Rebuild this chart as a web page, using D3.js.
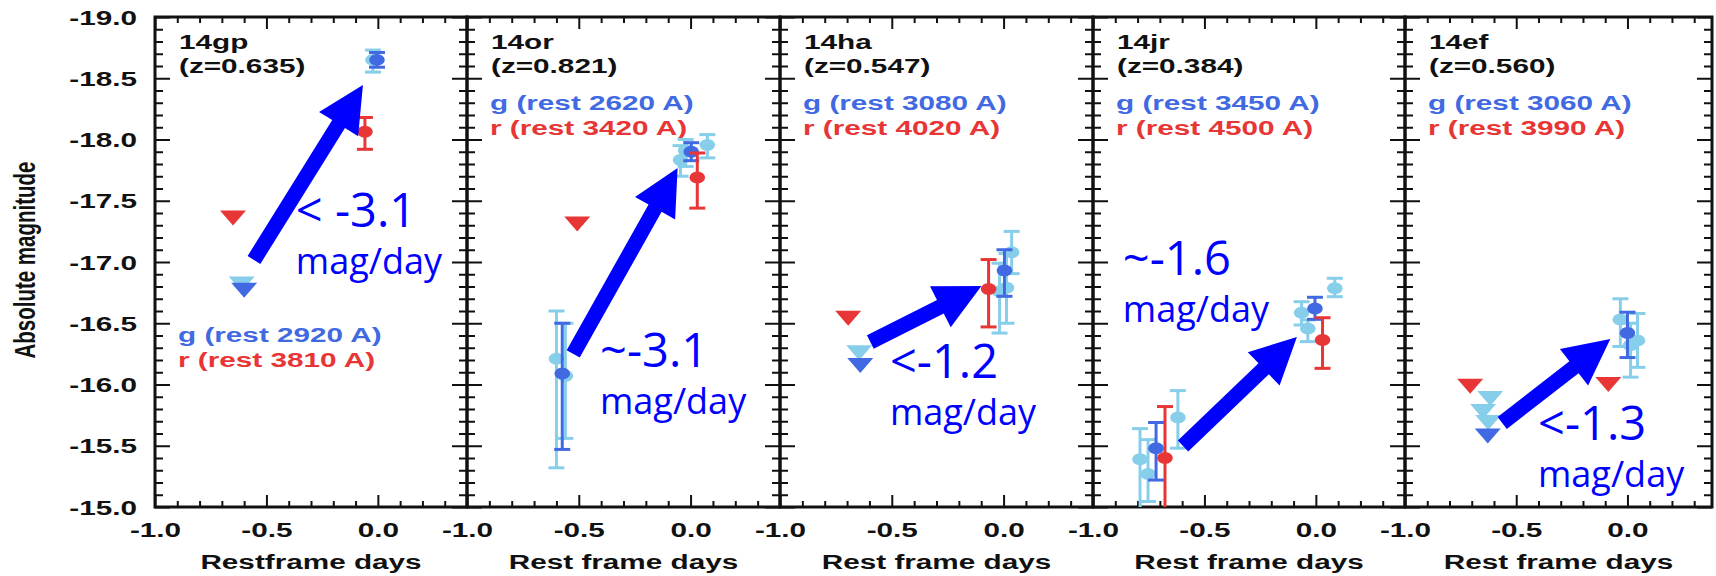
<!DOCTYPE html>
<html>
<head>
<meta charset="utf-8">
<script src="https://cdn.jsdelivr.net/npm/d3@7"></script>
<style>
  html, body { margin: 0; padding: 0; background: #ffffff; }
  svg { display: block; }
</style>
</head>
<body>
<svg id="chart" width="1716" height="576"></svg>
<script>
// ---- Objects shown in the five panels ----
const supernovae = ["14gp", "14or", "14ha", "14jr", "14ef"];
const redshifts  = ["0.635", "0.821", "0.547", "0.384", "0.560"];
const gRestWave  = [2920, 2620, 3080, 3450, 3060];
const rRestWave  = [3810, 3420, 4020, 4500, 3990];
const xTitles    = ["Restframe days", "Rest frame days", "Rest frame days", "Rest frame days", "Rest frame days"];
const yTitle     = "Absolute magnitude";

// ---- Tick labels ----
const xTickLabels = ["-1.0", "-0.5", "0.0"];
const yTickLabels = ["-19.0", "-18.5", "-18.0", "-17.5", "-17.0", "-16.5", "-16.0", "-15.5", "-15.0"];

// ---- Detections: [panel, rest-frame day, abs. mag, bright-side mag, faint-side mag] ----
// g band, nightly combined points
const gBinned = [
  [0, -0.004, -18.65, -18.71, -18.59],
  [1, -0.574, -16.09, -16.50, -15.47],
  [1,  0.003, -17.90, -17.974, -17.827],
  [2,  0.004, -16.93, -17.10, -16.72],
  [3, -0.717, -15.48, -15.69, -15.22],
  [3, -0.004, -16.62, -16.712, -16.532],
  [4,  0.000, -16.42, -16.59, -16.22]
];
// g band, individual exposures
const gSingle = [
  [0, -0.022, -18.65, -18.73, -18.55],
  [1, -0.600, -16.21, -16.60, -15.32],
  [1, -0.560, -16.07, -16.50, -15.56],
  [1, -0.045, -17.833, -17.95, -17.70],
  [1, -0.022, -17.91, -18.00, -17.78],
  [1,  0.075, -17.955, -18.04, -17.85],
  [2,  0.036, -17.08, -17.25, -16.905],
  [2,  0.013, -16.79, -17.07, -16.50],
  [2, -0.018, -16.76, -16.99, -16.42],
  [3, -0.789, -15.39, -15.64, -14.90],
  [3, -0.753, -15.27, -15.55, -15.045],
  [3, -0.619, -15.73, -15.95, -15.48],
  [3, -0.064, -16.585, -16.676, -16.486],
  [3, -0.036, -16.458, -16.527, -16.35],
  [3,  0.085, -16.785, -16.867, -16.717],
  [4, -0.032, -16.53, -16.70, -16.31],
  [4,  0.045, -16.36, -16.58, -16.14],
  [4,  0.014, -16.32, -16.50, -16.06]
];
// r band
const rDetections = [
  [0, -0.058, -18.064, -18.18, -17.92],
  [1,  0.030, -17.69, -17.89, -17.44],
  [2, -0.067, -16.78, -17.02, -16.47],
  [3, -0.677, -15.40, -15.82, -14.90],
  [3,  0.030, -16.363, -16.545, -16.132]
];

// ---- Upper limits: [panel, rest-frame day, abs. mag] ----
const gBinnedLimits = [
  [0, -0.600, -16.77],
  [2, -0.641, -16.155],
  [4, -0.628, -15.58]
];
const gSingleLimits = [
  [0, -0.611, -16.82],
  [2, -0.646, -16.26],
  [4, -0.617, -15.885],
  [4, -0.649, -15.78],
  [4, -0.626, -15.69]
];
const rLimits = [
  [0, -0.650, -17.36],
  [1, -0.507, -17.31],
  [2, -0.695, -16.54],
  [4, -0.707, -15.985],
  [4, -0.086, -16.00]
];

// ---- Rise-rate arrows: [panel, tail day, tail mag, head day, head mag] ----
const riseArrows = [
  [0, -0.556, -17.016, -0.067, -18.445],
  [1, -0.525, -16.25,  -0.058, -17.767],
  [2, -0.596, -16.347, -0.099, -16.804],
  [3, -0.596, -15.498, -0.085, -16.388],
  [4, -0.563, -15.686, -0.077, -16.371]
];
const riseRates = ["< -3.1", "~-3.1", "<-1.2", "~-1.6", "<-1.3"];
const rateUnit  = "mag/day";
// where each rate label sits: [panel, day, mag] of its first baseline
const rateLabelAt = [
  [0, -0.368, -17.286],
  [1, -0.405, -16.143],
  [2, -0.508, -16.053],
  [3, -0.866, -16.894],
  [4, -0.402, -15.547]
];

// ---- Layout ----
const panelLeft  = [155, 467, 780, 1093, 1405];
const panelRight = [467, 780, 1093, 1405, 1712];
const dayMax     = [0.4, 0.4, 0.4, 0.4, 0.38];
const plotTop = 17, plotBottom = 507;
const legendBaseline = [342, 110, 110, 110, 110];

const SX = 1.45;                       // lettering of the plot is wide
const FONT = "'Liberation Sans', Arial, Helvetica, sans-serif";
const FS = 20.5;
const INK = "#111111";
const C_GDARK = "#4169e1", C_GLIGHT = "#87ceeb", C_RED = "#e83535", C_RATE = "#0000ff";
const RATE_FONT = "'Open Sans', 'Noto Sans', sans-serif";

const svg = d3.select("#chart");
const defs = svg.append("defs");

const y = d3.scaleLinear().domain([-19, -15]).range([plotTop, plotBottom]);

const yMajor = yTickLabels.map(Number);
const yMinor = d3.range(-190, -149).map(v => v / 10).filter(v => !yMajor.includes(v));
const xMajor = xTickLabels.map(Number);

function stretched(sel, x, yy, str) {
  return sel.append("text")
    .attr("transform", `translate(${x},${yy}) scale(${SX},1)`)
    .attr("font-family", FONT)
    .attr("font-size", FS)
    .attr("font-weight", "bold")
    .text(str);
}

function tidyAxis(sel, keepText) {
  sel.select(".domain").remove();
  sel.selectAll(".tick line").attr("stroke", INK).attr("stroke-width", 2);
  if (!keepText) sel.selectAll(".tick text").remove();
  sel.attr("font-family", FONT).attr("font-size", FS).attr("font-weight", "bold");
}

supernovae.forEach((name, i) => {
  const L = panelLeft[i], R = panelRight[i];
  const x = d3.scaleLinear().domain([-1, dayMax[i]]).range([L, R]);
  const xMinor = d3.range(-10, 5).map(v => v / 10)
    .filter(v => !xMajor.includes(v) && v > -1 && v < dayMax[i]);

  const panel = svg.append("g").attr("class", "panel");

  // ticks on all four sides, pointing inwards
  const axB = panel.append("g").attr("transform", `translate(0,${plotBottom})`)
    .call(d3.axisBottom(x).tickValues(xMajor).tickSizeInner(-12).tickSizeOuter(0)
      .tickFormat((d, k) => xTickLabels[k]));
  tidyAxis(axB, true);
  axB.selectAll(".tick text")
    .attr("y", null).attr("dy", null)
    .attr("transform", `translate(0,30) scale(${SX},1)`)
    .attr("fill", INK);
  tidyAxis(panel.append("g").attr("transform", `translate(0,${plotBottom})`)
    .call(d3.axisBottom(x).tickValues(xMinor).tickSizeInner(-6).tickSizeOuter(0)), false);
  tidyAxis(panel.append("g").attr("transform", `translate(0,${plotTop})`)
    .call(d3.axisTop(x).tickValues(xMajor).tickSizeInner(-12).tickSizeOuter(0)), false);
  tidyAxis(panel.append("g").attr("transform", `translate(0,${plotTop})`)
    .call(d3.axisTop(x).tickValues(xMinor).tickSizeInner(-6).tickSizeOuter(0)), false);

  const axL = panel.append("g").attr("transform", `translate(${L},0)`)
    .call(d3.axisLeft(y).tickValues(yMajor).tickSizeInner(-15).tickSizeOuter(0)
      .tickFormat((d, k) => yTickLabels[k]));
  tidyAxis(axL, i === 0);
  axL.selectAll(".tick text")
    .attr("x", null).attr("dy", "0.35em")
    .attr("transform", `translate(-18,0) scale(${SX},1)`)
    .attr("fill", INK);
  tidyAxis(panel.append("g").attr("transform", `translate(${L},0)`)
    .call(d3.axisLeft(y).tickValues(yMinor).tickSizeInner(-8).tickSizeOuter(0)), false);
  tidyAxis(panel.append("g").attr("transform", `translate(${R},0)`)
    .call(d3.axisRight(y).tickValues(yMajor).tickSizeInner(-15).tickSizeOuter(0)), false);
  tidyAxis(panel.append("g").attr("transform", `translate(${R},0)`)
    .call(d3.axisRight(y).tickValues(yMinor).tickSizeInner(-8).tickSizeOuter(0)), false);

  // frame
  panel.append("rect")
    .attr("x", L).attr("y", plotTop)
    .attr("width", R - L).attr("height", plotBottom - plotTop)
    .attr("fill", "none").attr("stroke", INK).attr("stroke-width", 3);

  // object name, redshift, band legend
  stretched(panel, L + 24, 49, name).attr("fill", INK);
  stretched(panel, L + 24, 73, `(z=${redshifts[i]})`).attr("fill", INK);
  stretched(panel, L + 23, legendBaseline[i], `g (rest ${gRestWave[i]} A)`).attr("fill", C_GDARK);
  stretched(panel, L + 23, legendBaseline[i] + 25, `r (rest ${rRestWave[i]} A)`).attr("fill", C_RED);

  // x title
  stretched(panel, (L + R) / 2, 569, xTitles[i]).attr("fill", INK).attr("text-anchor", "middle");

  // data area, clipped to the frame
  const clipId = `clip-${i}`;
  defs.append("clipPath").attr("id", clipId).append("rect")
    .attr("x", L).attr("y", plotTop).attr("width", R - L).attr("height", plotBottom - plotTop);
  const marks = panel.append("g").attr("clip-path", `url(#${clipId})`);

  const tri = "M-13,-7.5L13,-7.5L0,7.5Z";
  function drawLimits(rows, color) {
    marks.selectAll(null).data(rows.filter(r => r[0] === i)).join("path")
      .attr("d", tri)
      .attr("transform", d => `translate(${x(d[1])},${y(d[2])})`)
      .attr("fill", color);
  }
  function drawDetections(rows, color) {
    const pts = marks.selectAll(null).data(rows.filter(r => r[0] === i)).join("g")
      .attr("stroke", color).attr("fill", color);
    pts.append("line")
      .attr("x1", d => x(d[1])).attr("x2", d => x(d[1]))
      .attr("y1", d => y(d[3])).attr("y2", d => y(d[4]))
      .attr("stroke-width", 3);
    [3, 4].forEach(k => pts.append("line")
      .attr("x1", d => x(d[1]) - 8).attr("x2", d => x(d[1]) + 8)
      .attr("y1", d => y(d[k])).attr("y2", d => y(d[k]))
      .attr("stroke-width", 3));
    pts.append("ellipse")
      .attr("cx", d => x(d[1])).attr("cy", d => y(d[2]))
      .attr("rx", 7.8).attr("ry", 6)
      .attr("stroke", "none");
  }
  drawLimits(gSingleLimits, C_GLIGHT);
  drawLimits(gBinnedLimits, C_GDARK);
  drawLimits(rLimits, C_RED);
  drawDetections(gSingle, C_GLIGHT);
  drawDetections(gBinned, C_GDARK);
  drawDetections(rDetections, C_RED);

  // rise arrow
  riseArrows.filter(a => a[0] === i).forEach(a => {
    const x0 = x(a[1]), y0 = y(a[2]), x1 = x(a[3]), y1 = y(a[4]);
    const len = Math.hypot(x1 - x0, y1 - y0);
    const ux = (x1 - x0) / len, uy = (y1 - y0) / len;
    const px = -uy, py = ux;
    const sw = 7.5, hl = 46, hw = 23;
    const bx = x1 - ux * hl, by = y1 - uy * hl;
    const pts = [
      [x0 + px * sw, y0 + py * sw],
      [bx + px * sw, by + py * sw],
      [bx + px * hw, by + py * hw],
      [x1, y1],
      [bx - px * hw, by - py * hw],
      [bx - px * sw, by - py * sw],
      [x0 - px * sw, y0 - py * sw]
    ];
    panel.append("path")
      .attr("d", d3.line()(pts) + "Z")
      .attr("fill", C_RATE);
  });

  // rise-rate label
  rateLabelAt.filter(r => r[0] === i).forEach(r => {
    const tx = x(r[1]), ty = y(r[2]);
    panel.append("text")
      .attr("x", tx).attr("y", ty)
      .attr("font-family", RATE_FONT)
      .attr("font-weight", 500)
      .attr("font-size", 47)
      .attr("fill", C_RATE)
      .text(riseRates[i]);
    panel.append("text")
      .attr("x", tx).attr("y", ty + 47)
      .attr("font-family", RATE_FONT)
      .attr("font-weight", 500)
      .attr("font-size", 36)
      .attr("fill", C_RATE)
      .text(rateUnit);
  });
});

// y title
svg.append("text")
  .attr("transform", `translate(35,260) rotate(-90) scale(1,${SX})`)
  .attr("text-anchor", "middle")
  .attr("font-family", FONT)
  .attr("font-size", FS)
  .attr("font-weight", "bold")
  .attr("fill", INK)
  .text(yTitle);
</script>
</body>
</html>
